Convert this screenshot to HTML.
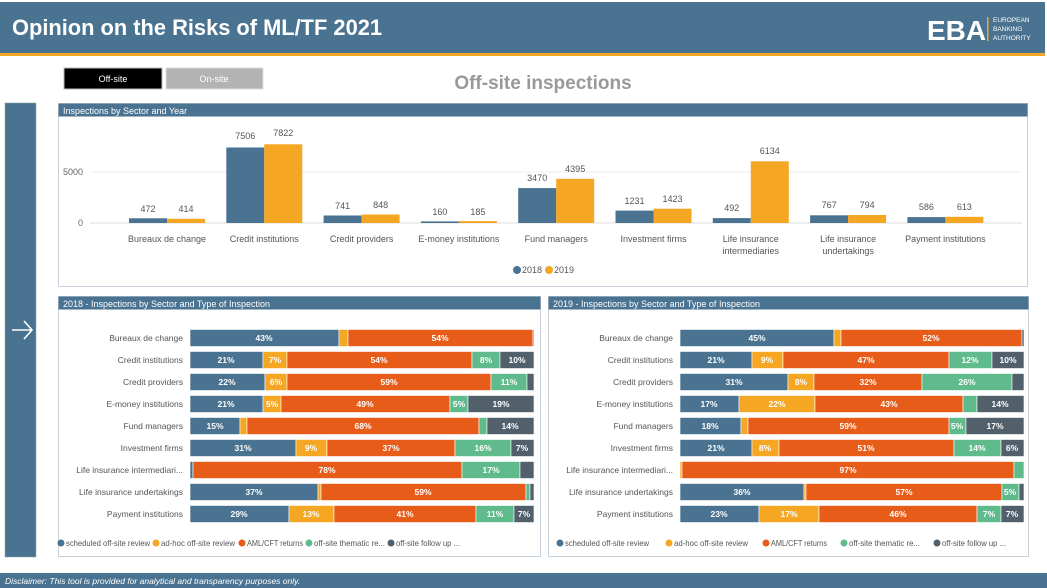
<!DOCTYPE html>
<html><head><meta charset="utf-8"><style>
html,body{margin:0;padding:0;background:#fff;width:1047px;height:588px;overflow:hidden;font-family:"Liberation Sans",sans-serif}
svg text{font-family:"Liberation Sans",sans-serif}
</style></head><body>
<svg width="1047" height="588" viewBox="0 0 1047 588" xmlns="http://www.w3.org/2000/svg">
<rect x="0" y="0" width="1047" height="588" fill="#fff"/>
<rect x="0" y="2" width="1045" height="51" fill="#4a7391"/>
<rect x="0" y="53" width="1045" height="3" fill="#f5a623"/>
<text x="12" y="35" font-size="22" font-weight="bold" fill="#fff" textLength="370" lengthAdjust="spacingAndGlyphs">Opinion on the Risks of ML/TF 2021</text>
<text x="927" y="40" font-size="28" font-weight="bold" fill="#fff">EBA</text>
<rect x="987" y="17" width="1.5" height="24" fill="#f5a623"/>
<text x="993" y="22" font-size="6.5" fill="#fff">EUROPEAN</text>
<text x="993" y="31" font-size="6.5" fill="#fff">BANKING</text>
<text x="993" y="40" font-size="6.5" fill="#fff">AUTHORITY</text>
<rect x="64" y="68" width="98" height="21" fill="#000" stroke="#bbb"/>
<text x="113" y="82" font-size="9" fill="#fff" text-anchor="middle">Off-site</text>
<rect x="166" y="68" width="97" height="21" fill="#b3b3b3" stroke="#ddd"/>
<text x="214" y="82" font-size="9" fill="#fff" text-anchor="middle">On-site</text>
<text x="543" y="89" font-size="19" font-weight="bold" fill="#999" text-anchor="middle">Off-site inspections</text>
<rect x="5" y="103" width="31" height="454" fill="#4a7391" stroke="#8aa" stroke-width="0.5"/>
<path d="M12 330 H32 M24 321 L32 330 L24 339" stroke="#fff" stroke-width="1.6" fill="none"/>
<!-- top panel -->
<rect x="58.5" y="103.5" width="969" height="183" fill="#fff" stroke="#c8d2dc"/>
<rect x="58.5" y="103.5" width="969" height="13" fill="#4a7391"/>
<text x="63" y="114" font-size="9" fill="#fff">Inspections by Sector and Year</text>
<line x1="90" y1="172" x2="1022" y2="172" stroke="#eee"/>
<line x1="90" y1="223" x2="1022" y2="223" stroke="#ddd"/>
<text x="83" y="175" font-size="9" fill="#666" text-anchor="end">5000</text>
<text x="83" y="226" font-size="9" fill="#666" text-anchor="end">0</text>
<g fill="#4a7391">
<rect x="129" y="218.3" width="38" height="4.7"/><rect x="226.3" y="147.5" width="38" height="75.5"/><rect x="323.6" y="215.5" width="38" height="7.5"/><rect x="420.9" y="221.4" width="38" height="1.6"/><rect x="518.2" y="188.1" width="38" height="34.9"/><rect x="615.5" y="210.6" width="38" height="12.4"/><rect x="712.8" y="218.1" width="38" height="4.9"/><rect x="810.1" y="215.3" width="38" height="7.7"/><rect x="907.4" y="217.1" width="38" height="5.9"/>
</g>
<g fill="#f5a623">
<rect x="167" y="218.8" width="38" height="4.2"/><rect x="264.3" y="144.3" width="38" height="78.7"/><rect x="361.6" y="214.5" width="38" height="8.5"/><rect x="458.9" y="221.1" width="38" height="1.9"/><rect x="556.2" y="178.8" width="38" height="44.2"/><rect x="653.5" y="208.7" width="38" height="14.3"/><rect x="750.8" y="161.3" width="38" height="61.7"/><rect x="848.1" y="215" width="38" height="8"/><rect x="945.4" y="216.8" width="38" height="6.2"/>
</g>
<g font-size="9" fill="#555" text-anchor="middle">
<text x="148" y="212">472</text><text x="186" y="212">414</text>
<text x="245.3" y="139">7506</text><text x="283.3" y="136">7822</text>
<text x="342.6" y="209">741</text><text x="380.6" y="208">848</text>
<text x="439.9" y="215">160</text><text x="477.9" y="215">185</text>
<text x="537.2" y="181">3470</text><text x="575.2" y="172">4395</text>
<text x="634.5" y="204">1231</text><text x="672.5" y="202">1423</text>
<text x="731.8" y="211">492</text><text x="769.8" y="154">6134</text>
<text x="829.1" y="208">767</text><text x="867.1" y="208">794</text>
<text x="926.4" y="210">586</text><text x="964.4" y="210">613</text>
</g>
<g font-size="9" fill="#555" text-anchor="middle">
<text x="167" y="242">Bureaux de change</text><text x="264.3" y="242">Credit institutions</text><text x="361.6" y="242">Credit providers</text><text x="458.9" y="242">E-money institutions</text><text x="556.2" y="242">Fund managers</text><text x="653.5" y="242">Investment firms</text><text x="750.8" y="242">Life insurance</text><text x="750.8" y="254">intermediaries</text><text x="848.1" y="242">Life insurance</text><text x="848.1" y="254">undertakings</text><text x="945.4" y="242">Payment institutions</text>
</g>
<circle cx="517" cy="270" r="4" fill="#4a7391"/><text x="522" y="273" font-size="9" fill="#555">2018</text>
<circle cx="549" cy="270" r="4" fill="#f5a623"/><text x="554" y="273" font-size="9" fill="#555">2019</text>

<!-- bottom panels -->
<rect x="58.5" y="296.5" width="482" height="260" fill="#fff" stroke="#c8d2dc"/>
<rect x="58.5" y="296.5" width="482" height="13" fill="#4a7391"/>
<text x="63" y="307" font-size="9" fill="#fff">2018 - Inspections by Sector and Type of Inspection</text>
<rect x="548.5" y="296.5" width="480" height="260" fill="#fff" stroke="#c8d2dc"/>
<rect x="548.5" y="296.5" width="480" height="13" fill="#4a7391"/>
<text x="553" y="307" font-size="9" fill="#fff">2019 - Inspections by Sector and Type of Inspection</text>

<g font-size="8.5" fill="#555" text-anchor="end">
<text x="183" y="341">Bureaux de change</text><text x="183" y="363">Credit institutions</text><text x="183" y="385">Credit providers</text><text x="183" y="407">E-money institutions</text><text x="183" y="429">Fund managers</text><text x="183" y="451">Investment firms</text><text x="183" y="473">Life insurance intermediari...</text><text x="183" y="495">Life insurance undertakings</text><text x="183" y="517">Payment institutions</text>
<text x="673" y="341">Bureaux de change</text><text x="673" y="363">Credit institutions</text><text x="673" y="385">Credit providers</text><text x="673" y="407">E-money institutions</text><text x="673" y="429">Fund managers</text><text x="673" y="451">Investment firms</text><text x="673" y="473">Life insurance intermediari...</text><text x="673" y="495">Life insurance undertakings</text><text x="673" y="517">Payment institutions</text>
</g>

<g stroke="#fff" stroke-width="0.6">
<rect x="190" y="329.5" width="149" height="17" fill="#4a7391"/><rect x="339" y="329.5" width="9" height="17" fill="#f5a623"/><rect x="348" y="329.5" width="185" height="17" fill="#e85c1a"/><rect x="533" y="329.5" width="1" height="17" fill="#52606b"/>
<rect x="190" y="351.5" width="73" height="17" fill="#4a7391"/><rect x="263" y="351.5" width="24" height="17" fill="#f5a623"/><rect x="287" y="351.5" width="185" height="17" fill="#e85c1a"/><rect x="472" y="351.5" width="28" height="17" fill="#5fbb8c"/><rect x="500" y="351.5" width="34" height="17" fill="#52606b"/>
<rect x="190" y="373.5" width="75" height="17" fill="#4a7391"/><rect x="265" y="373.5" width="22" height="17" fill="#f5a623"/><rect x="287" y="373.5" width="204" height="17" fill="#e85c1a"/><rect x="491" y="373.5" width="36" height="17" fill="#5fbb8c"/><rect x="527" y="373.5" width="7" height="17" fill="#52606b"/>
<rect x="190" y="395.5" width="73" height="17" fill="#4a7391"/><rect x="263" y="395.5" width="18" height="17" fill="#f5a623"/><rect x="281" y="395.5" width="169" height="17" fill="#e85c1a"/><rect x="450" y="395.5" width="18" height="17" fill="#5fbb8c"/><rect x="468" y="395.5" width="66" height="17" fill="#52606b"/>
<rect x="190" y="417.5" width="50" height="17" fill="#4a7391"/><rect x="240" y="417.5" width="7" height="17" fill="#f5a623"/><rect x="247" y="417.5" width="232" height="17" fill="#e85c1a"/><rect x="479" y="417.5" width="8" height="17" fill="#5fbb8c"/><rect x="487" y="417.5" width="47" height="17" fill="#52606b"/>
<rect x="190" y="439.5" width="106" height="17" fill="#4a7391"/><rect x="296" y="439.5" width="31" height="17" fill="#f5a623"/><rect x="327" y="439.5" width="128" height="17" fill="#e85c1a"/><rect x="455" y="439.5" width="56" height="17" fill="#5fbb8c"/><rect x="511" y="439.5" width="23" height="17" fill="#52606b"/>
<rect x="190" y="461.5" width="3" height="17" fill="#4a7391"/><rect x="193" y="461.5" width="269" height="17" fill="#e85c1a"/><rect x="462" y="461.5" width="58" height="17" fill="#5fbb8c"/><rect x="520" y="461.5" width="14" height="17" fill="#52606b"/>
<rect x="190" y="483.5" width="128" height="17" fill="#4a7391"/><rect x="318" y="483.5" width="3" height="17" fill="#f5a623"/><rect x="321" y="483.5" width="205" height="17" fill="#e85c1a"/><rect x="526" y="483.5" width="4" height="17" fill="#5fbb8c"/><rect x="530" y="483.5" width="4" height="17" fill="#52606b"/>
<rect x="190" y="505.5" width="99" height="17" fill="#4a7391"/><rect x="289" y="505.5" width="45" height="17" fill="#f5a623"/><rect x="334" y="505.5" width="142" height="17" fill="#e85c1a"/><rect x="476" y="505.5" width="38" height="17" fill="#5fbb8c"/><rect x="514" y="505.5" width="20" height="17" fill="#52606b"/>
<rect x="680" y="329.5" width="154" height="17" fill="#4a7391"/><rect x="834" y="329.5" width="7" height="17" fill="#f5a623"/><rect x="841" y="329.5" width="181" height="17" fill="#e85c1a"/><rect x="1022" y="329.5" width="2" height="17" fill="#52606b"/>
<rect x="680" y="351.5" width="72" height="17" fill="#4a7391"/><rect x="752" y="351.5" width="31" height="17" fill="#f5a623"/><rect x="783" y="351.5" width="166" height="17" fill="#e85c1a"/><rect x="949" y="351.5" width="43" height="17" fill="#5fbb8c"/><rect x="992" y="351.5" width="32" height="17" fill="#52606b"/>
<rect x="680" y="373.5" width="108" height="17" fill="#4a7391"/><rect x="788" y="373.5" width="26" height="17" fill="#f5a623"/><rect x="814" y="373.5" width="108" height="17" fill="#e85c1a"/><rect x="922" y="373.5" width="90" height="17" fill="#5fbb8c"/><rect x="1012" y="373.5" width="12" height="17" fill="#52606b"/>
<rect x="680" y="395.5" width="59" height="17" fill="#4a7391"/><rect x="739" y="395.5" width="76" height="17" fill="#f5a623"/><rect x="815" y="395.5" width="148" height="17" fill="#e85c1a"/><rect x="963" y="395.5" width="14" height="17" fill="#5fbb8c"/><rect x="977" y="395.5" width="47" height="17" fill="#52606b"/>
<rect x="680" y="417.5" width="61" height="17" fill="#4a7391"/><rect x="741" y="417.5" width="7" height="17" fill="#f5a623"/><rect x="748" y="417.5" width="201" height="17" fill="#e85c1a"/><rect x="949" y="417.5" width="17" height="17" fill="#5fbb8c"/><rect x="966" y="417.5" width="58" height="17" fill="#52606b"/>
<rect x="680" y="439.5" width="72" height="17" fill="#4a7391"/><rect x="752" y="439.5" width="27" height="17" fill="#f5a623"/><rect x="779" y="439.5" width="175" height="17" fill="#e85c1a"/><rect x="954" y="439.5" width="47" height="17" fill="#5fbb8c"/><rect x="1001" y="439.5" width="23" height="17" fill="#52606b"/>
<rect x="680" y="461.5" width="2" height="17" fill="#f5a623"/><rect x="682" y="461.5" width="332" height="17" fill="#e85c1a"/><rect x="1014" y="461.5" width="10" height="17" fill="#5fbb8c"/>
<rect x="680" y="483.5" width="124" height="17" fill="#4a7391"/><rect x="804" y="483.5" width="2" height="17" fill="#f5a623"/><rect x="806" y="483.5" width="196" height="17" fill="#e85c1a"/><rect x="1002" y="483.5" width="17" height="17" fill="#5fbb8c"/><rect x="1019" y="483.5" width="5" height="17" fill="#52606b"/>
<rect x="680" y="505.5" width="79" height="17" fill="#4a7391"/><rect x="759" y="505.5" width="60" height="17" fill="#f5a623"/><rect x="819" y="505.5" width="158" height="17" fill="#e85c1a"/><rect x="977" y="505.5" width="24" height="17" fill="#5fbb8c"/><rect x="1001" y="505.5" width="23" height="17" fill="#52606b"/>
</g>
<g font-size="8.5" font-weight="bold" fill="#fff" text-anchor="middle">
<text x="264" y="341">43%</text><text x="440" y="341">54%</text>
<text x="226" y="363">21%</text><text x="275" y="363">7%</text><text x="379" y="363">54%</text><text x="486" y="363">8%</text><text x="517" y="363">10%</text>
<text x="227" y="385">22%</text><text x="276" y="385">6%</text><text x="389" y="385">59%</text><text x="509" y="385">11%</text>
<text x="226" y="407">21%</text><text x="272" y="407">5%</text><text x="365" y="407">49%</text><text x="459" y="407">5%</text><text x="501" y="407">19%</text>
<text x="215" y="429">15%</text><text x="363" y="429">68%</text><text x="510" y="429">14%</text>
<text x="243" y="451">31%</text><text x="311" y="451">9%</text><text x="391" y="451">37%</text><text x="483" y="451">16%</text><text x="522" y="451">7%</text>
<text x="327" y="473">78%</text><text x="491" y="473">17%</text>
<text x="254" y="495">37%</text><text x="423" y="495">59%</text>
<text x="239" y="517">29%</text><text x="311" y="517">13%</text><text x="405" y="517">41%</text><text x="495" y="517">11%</text><text x="524" y="517">7%</text>
<text x="757" y="341">45%</text><text x="931" y="341">52%</text>
<text x="716" y="363">21%</text><text x="767" y="363">9%</text><text x="866" y="363">47%</text><text x="970" y="363">12%</text><text x="1008" y="363">10%</text>
<text x="734" y="385">31%</text><text x="801" y="385">8%</text><text x="868" y="385">32%</text><text x="967" y="385">26%</text>
<text x="709" y="407">17%</text><text x="777" y="407">22%</text><text x="889" y="407">43%</text><text x="1000" y="407">14%</text>
<text x="710" y="429">18%</text><text x="848" y="429">59%</text><text x="957" y="429">5%</text><text x="995" y="429">17%</text>
<text x="716" y="451">21%</text><text x="765" y="451">8%</text><text x="866" y="451">51%</text><text x="977" y="451">14%</text><text x="1012" y="451">6%</text>
<text x="848" y="473">97%</text>
<text x="742" y="495">36%</text><text x="904" y="495">57%</text><text x="1010" y="495">5%</text>
<text x="719" y="517">23%</text><text x="789" y="517">17%</text><text x="898" y="517">46%</text><text x="989" y="517">7%</text><text x="1012" y="517">7%</text>
</g>
<g font-size="8.5" fill="#555">
<circle cx="61" cy="543" r="3.5" fill="#4a7391"/><text x="66" y="546" textLength="84" lengthAdjust="spacingAndGlyphs">scheduled off-site review</text>
<circle cx="156" cy="543" r="3.5" fill="#f5a623"/><text x="161" y="546" textLength="74" lengthAdjust="spacingAndGlyphs">ad-hoc off-site review</text>
<circle cx="242" cy="543" r="3.5" fill="#e85c1a"/><text x="247" y="546" textLength="56" lengthAdjust="spacingAndGlyphs">AML/CFT returns</text>
<circle cx="309" cy="543" r="3.5" fill="#5fbb8c"/><text x="314" y="546" textLength="71" lengthAdjust="spacingAndGlyphs">off-site thematic re...</text>
<circle cx="391" cy="543" r="3.5" fill="#52606b"/><text x="396" y="546" textLength="64" lengthAdjust="spacingAndGlyphs">off-site follow up ...</text>
<circle cx="560" cy="543" r="3.5" fill="#4a7391"/><text x="565" y="546" textLength="84" lengthAdjust="spacingAndGlyphs">scheduled off-site review</text>
<circle cx="669" cy="543" r="3.5" fill="#f5a623"/><text x="674" y="546" textLength="74" lengthAdjust="spacingAndGlyphs">ad-hoc off-site review</text>
<circle cx="766" cy="543" r="3.5" fill="#e85c1a"/><text x="771" y="546" textLength="56" lengthAdjust="spacingAndGlyphs">AML/CFT returns</text>
<circle cx="844" cy="543" r="3.5" fill="#5fbb8c"/><text x="849" y="546" textLength="71" lengthAdjust="spacingAndGlyphs">off-site thematic re...</text>
<circle cx="937" cy="543" r="3.5" fill="#52606b"/><text x="942" y="546" textLength="64" lengthAdjust="spacingAndGlyphs">off-site follow up ...</text>
</g>
<rect x="0" y="573" width="1047" height="15" fill="#4a7391"/>
<text x="5" y="584" font-size="8.5" font-style="italic" fill="#fff">Disclaimer: This tool is provided for analytical and transparency purposes only.</text>
</svg>
</body></html>
